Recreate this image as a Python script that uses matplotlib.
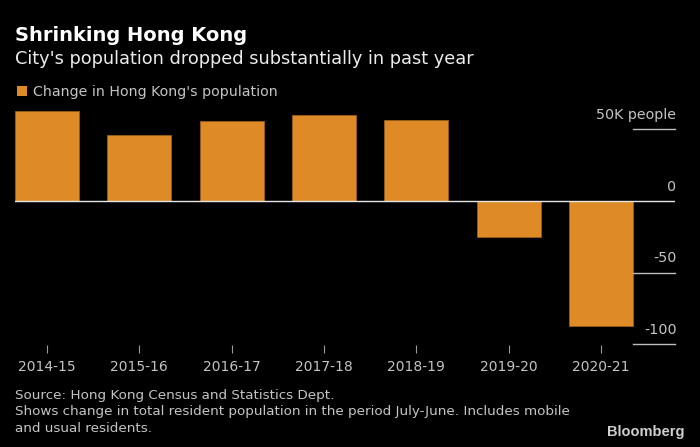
import matplotlib
matplotlib.use("Agg")
import matplotlib.pyplot as plt
from matplotlib.patches import Rectangle

categories = ["2014-15", "2015-16", "2016-17", "2017-18", "2018-19", "2019-20", "2020-21"]
values = [62.5, 46.0, 55.8, 59.8, 56.5, -25.3, -87.0]
ytick_vals = [50, 0, -50, -100]
ytick_labels = ["50K people", "0", "-50", "-100"]

W, H = 700, 447
BG = "#000000"
BAR = "#DE8A26"
GRAY = "#c4c4c4"

fig = plt.figure(figsize=(W / 100, H / 100), dpi=100, facecolor=BG)

def fx(x):
    return x / W

def fy(y):
    return 1 - y / H

ax_left, ax_right, ax_top, ax_bottom = 15, 675, 100, 345
ax = fig.add_axes([fx(ax_left), fy(ax_bottom), (ax_right - ax_left) / W, (ax_bottom - ax_top) / H])
ax.set_facecolor(BG)
ax.patch.set_alpha(0)
for s in ax.spines.values():
    s.set_visible(False)

x = list(range(len(categories)))
ax.bar(x, values, width=0.693, color=BAR, edgecolor="#9a5e18", linewidth=0.6, zorder=2)
ax.set_xlim(-0.346, 6.80)
ax.set_ylim(-100.4, 70.4)
ax.axhline(0, color="#e6e6e6", linewidth=1.0, zorder=3)

ax.set_xticks(x)
ax.set_xticklabels(categories, color=GRAY, fontsize=10)
ax.tick_params(axis="x", colors="#9a9a9a", length=6, width=0.8, pad=5, labelcolor=GRAY)
ax.set_yticks([])

# right-side value labels with short underlines
for v, lab in zip(ytick_vals, ytick_labels):
    if v != 0:
        ax.plot([6.34, 6.80], [v, v], color="#bdbdbd", linewidth=1.0, clip_on=False, zorder=3)
    ax.annotate(lab, xy=(6.80, v), xytext=(1, 7.5), textcoords="offset points",
                ha="right", va="baseline", color=GRAY, fontsize=10.3, annotation_clip=False)

# titles
fig.text(fx(15), fy(41), "Shrinking Hong Kong", color="white", fontsize=14,
         fontweight="bold", ha="left", va="baseline")
fig.text(fx(15), fy(64), "City's population dropped substantially in past year", color="#ececec",
         fontsize=12.8, ha="left", va="baseline")

# legend
fig.patches.append(Rectangle((fx(17), fy(96)), 10 / W, 10 / H, transform=fig.transFigure,
                             facecolor=BAR, edgecolor="none"))
fig.text(fx(33), fy(96), "Change in Hong Kong's population", color=GRAY, fontsize=10.2,
         ha="left", va="baseline")

# footnotes
foot = ["Source: Hong Kong Census and Statistics Dept.",
        "Shows change in total resident population in the period July-June. Includes mobile",
        "and usual residents."]
for i, t in enumerate(foot):
    fig.text(fx(15), fy(399 + 16.5 * i), t, color=GRAY, fontsize=9.7,
             ha="left", va="baseline")

fig.text(fx(684), fy(436), "Bloomberg", color="#d0d0d0", fontsize=10.5, fontweight="bold",
         family=["Liberation Sans", "DejaVu Sans"], ha="right", va="baseline")

fig.savefig("out.png", dpi=100, facecolor=BG)
